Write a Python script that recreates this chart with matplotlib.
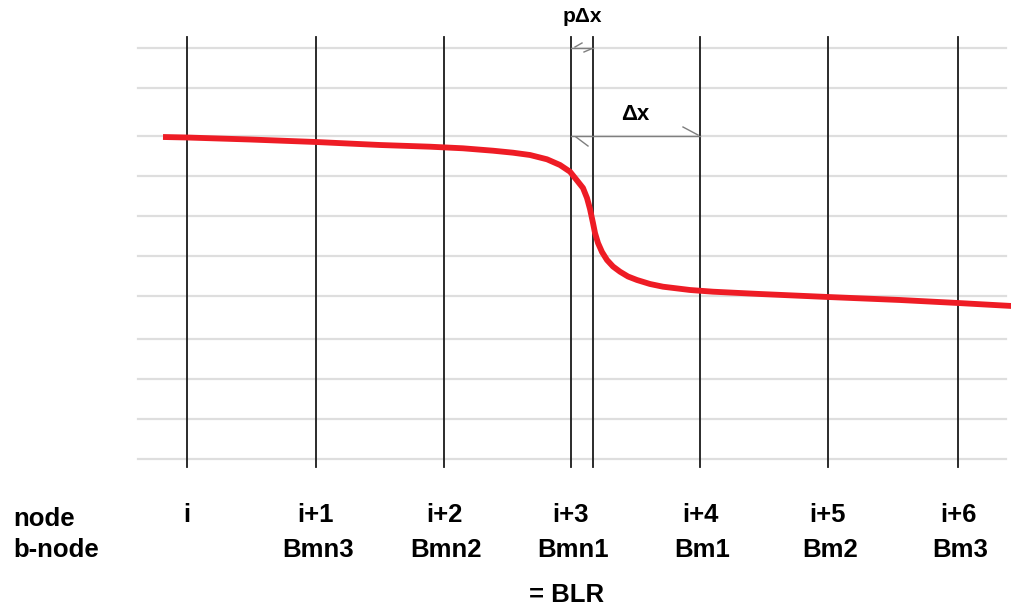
import matplotlib
matplotlib.use('Agg')
import matplotlib.pyplot as plt

# layout in picture units (x to the right, y downward)
node_x = [187, 316, 444, 571, 700, 828, 958]
p_x = 593
node_lbl = ['i', 'i+1', 'i+2', 'i+3', 'i+4', 'i+5', 'i+6']
bnode_lbl = ['', 'Bmn3', 'Bmn2', 'Bmn1', 'Bm1', 'Bm2', 'Bm3']
grid_y = [48, 88, 136, 176, 216, 256, 296, 339, 379, 419, 459]

curve_x = [163, 187, 250, 316, 380, 430, 463, 493, 513, 530, 547, 560, 570,
           578, 583, 587, 590, 593, 595, 598, 602, 607, 613, 620, 628, 637,
           650, 663, 690, 713, 760, 828, 900, 958, 1012]
curve_y = [137, 137.5, 139.5, 142, 145, 146.7, 148.3, 150.7, 152.7, 155, 159.3,
           165, 171.7, 181.7, 188, 198, 209, 223, 233, 243, 252, 260, 266.5,
           271.7, 276.5, 280, 284, 286.7, 290, 291.7, 294, 297, 300, 303, 306]


def DoFig(filename):
    plt.rc("font", family=['Liberation Sans', 'DejaVu Sans'], weight='bold')
    fig = plt.figure(figsize=(10.12, 6.11), dpi=100)
    ax = fig.add_axes([0, 0, 1, 1])
    ax.set_xlim(0, 1012)
    ax.set_ylim(611, 0)
    ax.axis('off')

    for y in grid_y:
        ax.plot([138, 1006], [y, y], color='#dedede', lw=1.6, zorder=1)

    for x in node_x + [p_x]:
        ax.plot([x, x], [37, 467], color='#1a1a1a', lw=1.3, zorder=2)

    # p*dx and dx dimension arrows
    g = '#7f7f7f'
    ax.plot([571, p_x], [47.5, 47.5], color=g, lw=1, zorder=3)
    ax.plot([575, 582], [47, 43], color=g, lw=1, zorder=3)
    ax.plot([591, 584], [49, 52], color=g, lw=1, zorder=3)
    ax.plot([571, 700], [135.5, 135.5], color=g, lw=1, zorder=3)
    ax.plot([576, 588], [137, 146], color=g, lw=1, zorder=3)
    ax.plot([698, 683], [135, 127], color=g, lw=1, zorder=3)
    ax.text(582, 16, 'p\u0394x', ha='center', va='center', fontsize=15)
    ax.text(635, 115, '\u0394x', ha='center', va='center', fontsize=16)

    ax.plot(curve_x, curve_y, color='#ee1c25', lw=4.2, zorder=4,
            solid_capstyle='butt', solid_joinstyle='round')

    ax.text(13, 519, 'node', ha='left', va='center', fontsize=18.5)
    ax.text(13, 550, 'b-node', ha='left', va='center', fontsize=18.5)
    for x, a, b in zip(node_x, node_lbl, bnode_lbl):
        ax.text(x, 515, a, ha='center', va='center', fontsize=18.5)
        ax.text(x + 2, 550, b, ha='center', va='center', fontsize=18.5)
    ax.text(567, 595, '= BLR', ha='center', va='center', fontsize=18.5)

    plt.savefig(filename, dpi=100)


if __name__ == '__main__':
    DoFig('out.png')
